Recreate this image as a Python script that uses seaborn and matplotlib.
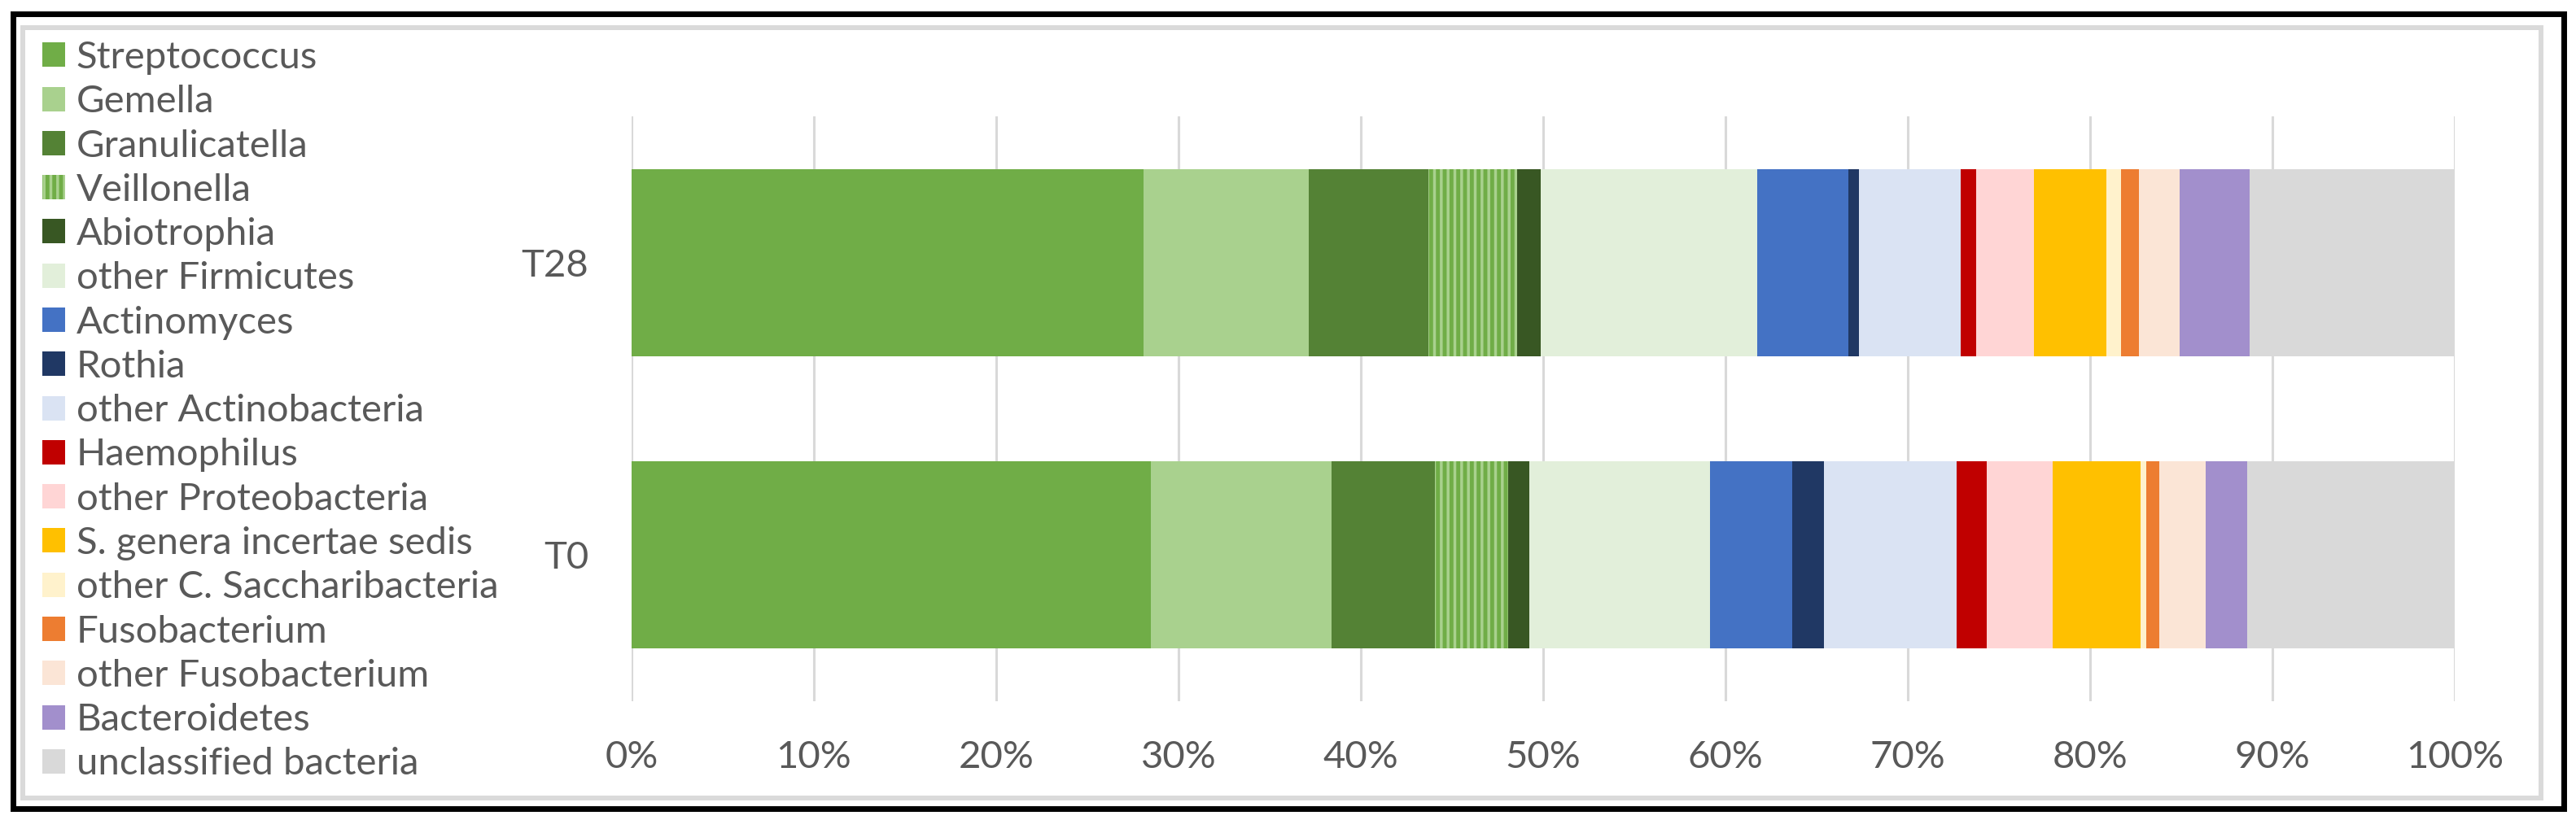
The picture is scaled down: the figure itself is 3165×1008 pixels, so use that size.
import matplotlib
matplotlib.use("Agg")
import matplotlib.pyplot as plt
from matplotlib.patches import Patch, Rectangle
import seaborn as sns

samples = ["T28", "T0"]
taxa = [
    "Streptococcus", "Gemella", "Granulicatella", "Veillonella", "Abiotrophia",
    "other Firmicutes", "Actinomyces", "Rothia", "other Actinobacteria",
    "Haemophilus", "other Proteobacteria", "S. genera incertae sedis",
    "other C. Saccharibacteria", "Fusobacterium", "other Fusobacterium",
    "Bacteroidetes", "unclassified bacteria",
]
t28 = [28.1, 9.05, 6.55, 4.85, 1.3, 11.9, 5.0, 0.55, 5.6, 0.85, 3.15, 4.0, 0.8, 1.0, 2.2, 3.85, 11.25]
t0 = [28.5, 9.9, 5.65, 4.05, 1.15, 9.9, 4.5, 1.75, 7.3, 1.65, 3.6, 4.8, 0.35, 0.7, 2.55, 2.25, 11.4]
colors = [
    "#70AD47", "#A9D18E", "#548235", "#70AD47", "#385723",
    "#E2EFDA", "#4472C4", "#203864", "#DAE3F3",
    "#C00000", "#FFD5D5", "#FFC000",
    "#FFF2CC", "#ED7D31", "#FBE5D6",
    "#A28FCC", "#D9D9D9",
]
xticks = [0, 10, 20, 30, 40, 50, 60, 70, 80, 90, 100]
xlabels = ["0%", "10%", "20%", "30%", "40%", "50%", "60%", "70%", "80%", "90%", "100%"]

sns.set_theme(style="white")
plt.rcParams["font.family"] = ["Lato", "DejaVu Sans"]
plt.rcParams["hatch.linewidth"] = 2.5
text_col = "#595959"
fs = 34

W, H = 3165, 1008
fig = plt.figure(figsize=(W / 100, H / 100), dpi=100)
ax = fig.add_axes([776 / W, 1 - 861.5 / H, (3016 - 776) / W, (861.5 - 143.5) / H])

# cumulative ends, drawn back to front so each layer covers the previous one
ends28, ends0 = [], []
s28 = s0 = 0
for a, b in zip(t28, t0):
    s28 += a
    s0 += b
    ends28.append(s28)
    ends0.append(s0)

for i in reversed(range(len(taxa))):
    n_before = len(ax.patches)
    sns.barplot(x=[ends28[i], ends0[i]], y=samples, order=samples, orient="y",
                color=colors[i], saturation=1, width=0.64, linewidth=0, ax=ax)
    if taxa[i] == "Veillonella":
        for p in ax.patches[n_before:]:
            p.set_hatch("||")
            p.set_edgecolor("#A9D18E")
            p.set_linewidth(0)

ax.set_xlim(0, 100)
ax.set_ylim(1.5, -0.5)
ax.set_xticks(xticks, xlabels)
ax.set_xlabel("")
ax.set_ylabel("")
ax.xaxis.grid(True, color="#D9D9D9", linewidth=2.2)
ax.yaxis.grid(False)
ax.set_axisbelow(True)
for s in ax.spines.values():
    s.set_visible(False)
ax.tick_params(axis="x", length=0, pad=35, labelsize=fs, labelcolor=text_col)
ax.tick_params(axis="y", length=0, pad=38, labelsize=fs, labelcolor=text_col)

handles = []
for t, c in zip(taxa, colors):
    if t == "Veillonella":
        handles.append(Patch(facecolor=c, edgecolor="#A9D18E", hatch="||", linewidth=0, label=t))
    else:
        handles.append(Patch(facecolor=c, linewidth=0, label=t))
leg = fig.legend(handles=handles, loc="upper left", bbox_to_anchor=(52 / W, 1 - 50 / H),
                 frameon=False, fontsize=fs, labelspacing=0.26, handlelength=0.6,
                 handleheight=0.6, handletextpad=0.28, borderpad=0, borderaxespad=0)
for t in leg.get_texts():
    t.set_color(text_col)

# chart border (light gray) and outer black frame
fig.patches.append(Rectangle((28 / W, 1 - 981 / H), (3122 - 28) / W, (981 - 34) / H,
                             transform=fig.transFigure, fill=False, ec="#DADADA", lw=4.3))
fig.patches.append(Rectangle((16 / W, 1 - 994 / H), (3150 - 16) / W, (994 - 17) / H,
                             transform=fig.transFigure, fill=False, ec="black", lw=5))

fig.savefig("out.png", dpi=100, facecolor="white")
